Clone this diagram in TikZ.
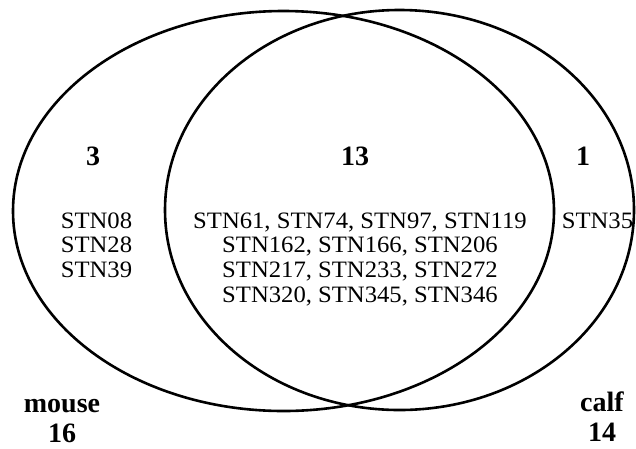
\documentclass[tikz,border=0pt]{standalone}
\usepackage{fontspec}
\setmainfont{Liberation Serif}
\newfontfamily\stnfont[FakeStretch=1.05]{Liberation Serif}
\begin{document}
\begin{tikzpicture}[x=1pt,y=-1pt,
  setline/.style={line width=2.6pt},
  member/.style={font=\stnfont\fontsize{23.5}{24.7}\selectfont, align=center, anchor=base, inner sep=0pt},
  count/.style={font=\fontsize{28}{30}\selectfont\bfseries, anchor=base, inner sep=0pt},
  setlabel/.style={font=\fontsize{28}{30}\selectfont\bfseries, align=center, anchor=base, inner sep=0pt}]
\useasboundingbox (0,0) rectangle (636,448);
\fill[white] (0,0) rectangle (636,448);

% the two sets
\draw[setline] (283.5,211) ellipse [x radius=270.5pt, y radius=200pt];
\draw[setline] (399.5,210) ellipse [x radius=234.5pt, y radius=200pt];

% region counts
\node[count] (nmouse)  at (93,165)  {3};
\node[count] (nshared) at (355,165) {13};
\node[count] (ncalf)   at (583,165) {1};

% region members (anchored at the baseline of the last line)
\node[member] (mouseonly) at (96.5,277.4) {STN08\\STN28\\STN39};
\node[member] (shared) at (360,302.1) {STN61, STN74, STN97, STN119\\STN162, STN166, STN206\\STN217, STN233, STN272\\STN320, STN345, STN346};
\node[member] (calfonly) at (597.5,228) {STN35};

% set labels with totals
\node[setlabel] (lmouse) at (62,442) {mouse\\16};
\node[setlabel] (lcalf)  at (602,441) {calf\\14};
\end{tikzpicture}
\end{document}
